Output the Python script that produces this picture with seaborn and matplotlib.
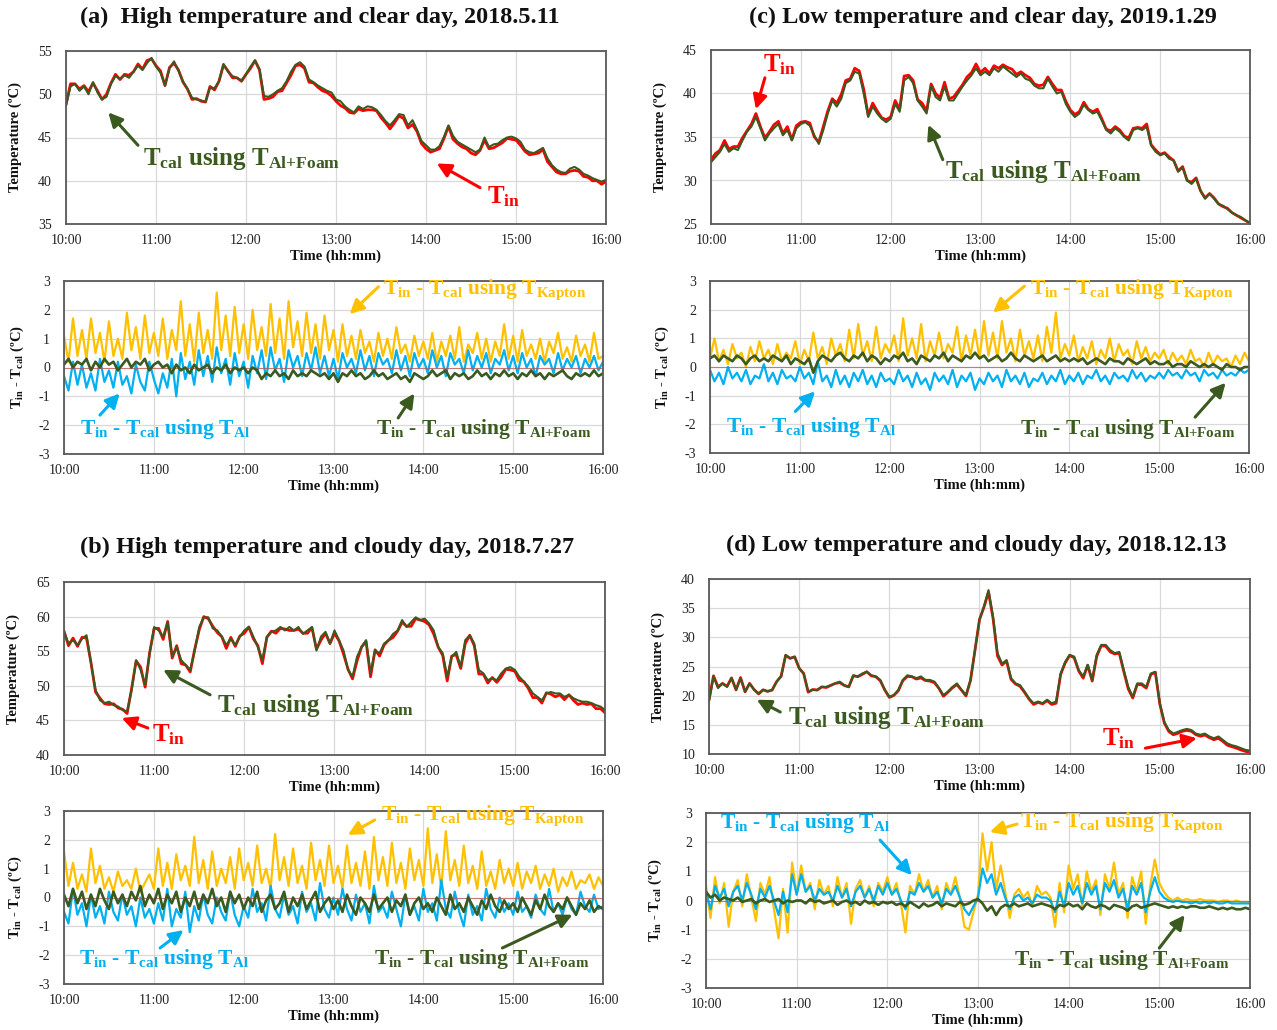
import numpy as np
import pandas as pd
import matplotlib
matplotlib.use("Agg")
import matplotlib.pyplot as plt
import seaborn as sns

# ---------------- data ----------------
minutes = list(range(0, 361, 3))          # 10:00 .. 16:00, every 3 min
hour_ticks = [10, 11, 12, 13, 14, 15, 16]
hour_labels = ["10:00", "11:00", "12:00", "13:00", "14:00", "15:00", "16:00"]

# (a) High temperature and clear day, 2018.5.11
tcal_a = [48.7, 50.9, 51.2, 50.4, 50.9, 50.0, 51.4, 50.2, 49.4, 49.7, 51.2, 52.1, 51.8, 52.2, 51.9, 52.6, 53.3, 52.8, 53.6, 54.2, 53.2,
          52.5, 51.0, 53.0, 53.8, 52.7, 51.5, 50.6, 49.6, 49.4, 49.3, 49.1, 50.8, 50.7, 51.5, 53.5, 52.6, 52.1, 51.9, 51.6, 52.3,
          53.2, 53.9, 52.9, 49.8, 49.7, 50.0, 50.4, 50.7, 51.5, 52.6, 53.4, 53.7, 53.2, 51.7, 51.4, 51.0, 50.7, 50.4, 50.2, 49.4,
          49.2, 48.6, 48.2, 47.9, 48.6, 48.3, 48.6, 48.5, 48.2, 47.6, 46.9, 46.4, 47.0, 47.7, 47.6, 46.4, 47.0, 45.9, 44.6, 44.1,
          43.6, 43.6, 44.0, 45.1, 46.4, 45.2, 44.5, 44.2, 43.9, 43.6, 43.3, 43.6, 45.0, 43.9, 44.2, 44.3, 44.7, 45.0, 45.1, 44.9,
          44.5, 43.6, 43.3, 43.2, 43.5, 43.8, 42.6, 41.8, 41.3, 41.0, 40.9, 41.4, 41.6, 41.3, 40.8, 40.6, 40.3, 40.1, 39.9, 40.1]
dkap_a = [1.1, 0.2, 1.7, 0.4, 1.3, 0.3, 1.7, 0.5, 1.2, 0.2, 1.6, 0.4, 1.0, 0.3, 1.9, 0.6, 1.4, 0.3, 1.8, 0.5, 1.2,
          0.4, 1.7, 0.3, 1.3, 0.6, 2.3, 0.4, 1.5, 0.2, 1.9, 0.5, 1.3, 0.3, 2.6, 0.6, 1.8, 0.4, 2.1, 0.5, 1.5,
          0.3, 2.0, 0.6, 1.4, 0.4, 2.2, 0.5, 1.7, 0.3, 2.3, 0.7, 1.6, 0.4, 1.9, 0.5, 1.5, 0.3, 1.8, 0.6, 1.3,
          0.2, 1.5, 0.4, 1.1, 0.3, 1.3, 0.5, 0.9, 0.2, 1.2, 0.4, 1.0, 0.3, 1.4, 0.5, 0.8, 0.2, 1.1, 0.4, 0.9,
          0.3, 1.2, 0.2, 0.9, 0.4, 1.1, 0.3, 1.4, 0.2, 0.8, 0.5, 1.2, 0.3, 1.0, 0.2, 0.9, 0.4, 1.5, 0.3, 1.1,
          0.2, 1.3, 0.4, 0.8, 0.3, 1.0, 0.2, 0.9, 0.5, 1.2, 0.3, 0.7, 0.2, 1.1, 0.4, 0.8, 0.2, 1.2, 0.3, 0.4]
dal_a = [-0.3, -0.8, 0.2, -0.6, 0.1, -0.7, -0.2, -0.8, 0.3, -0.5, -0.1, -0.7, 0.2, -0.6, -0.3, -0.9, 0.1, -0.5, -0.8, 0.2, -0.4,
         -0.9, -0.2, -0.7, 0.3, -1.0, 0.5, -0.4, 0.2, -0.6, 0.6, -0.3, 0.4, -0.5, 0.7, -0.2, 0.3, -0.6, 0.5, -0.3, 0.2,
         -0.7, 0.4, -0.2, 0.6, -0.4, 0.7, -0.1, 0.3, -0.5, 0.6, 0.0, 0.4, -0.3, 0.5, -0.1, 0.7, -0.2, 0.4, -0.3, 0.3,
         -0.4, 0.5, 0.0, 0.3, -0.2, 0.6, -0.1, 0.4, -0.3, 0.5, 0.1, 0.3, -0.2, 0.6, -0.1, 0.4, -0.3, 0.5, 0.0, 0.3,
         -0.2, 0.6, 0.0, 0.4, -0.3, 0.5, 0.1, 0.3, -0.2, 0.6, -0.1, 0.4, 0.0, 0.5, -0.2, 0.3, 0.1, 0.6, -0.1, 0.4,
         -0.2, 0.5, 0.0, 0.3, -0.3, 0.4, 0.1, 0.3, -0.2, 0.5, -0.1, 0.3, 0.0, 0.4, -0.2, 0.3, 0.0, 0.4, -0.1, 0.2]
dfoam_a = [0.1, 0.3, 0.0, 0.2, 0.1, 0.3, -0.1, 0.2, 0.0, 0.3, 0.1, 0.2, -0.1, 0.1, 0.3, 0.0, 0.2, 0.1, 0.3, -0.1, 0.1,
           0.2, 0.0, 0.1, -0.2, 0.1, -0.1, 0.0, -0.2, 0.1, -0.1, 0.0, 0.1, -0.2, 0.0, -0.1, 0.1, -0.2, 0.0, -0.1, 0.0,
           -0.2, 0.0, -0.1, -0.4, -0.2, -0.3, -0.1, -0.3, -0.2, -0.4, -0.1, -0.3, -0.2, -0.3, -0.1, -0.2, -0.3, -0.2, -0.4, -0.2,
           -0.5, -0.2, -0.3, -0.1, -0.3, -0.2, -0.4, -0.3, -0.1, -0.3, -0.2, -0.4, -0.3, -0.2, -0.4, -0.3, -0.5, -0.2, -0.3, -0.4,
           -0.3, -0.1, -0.3, -0.2, -0.1, -0.4, -0.2, -0.3, -0.2, -0.4, -0.3, -0.1, -0.3, -0.2, -0.4, -0.2, -0.3, -0.1, -0.3, -0.2,
           -0.4, -0.2, -0.3, -0.1, -0.3, -0.2, -0.4, -0.2, -0.3, -0.2, -0.1, -0.3, -0.4, -0.2, -0.3, -0.2, -0.3, -0.1, -0.3, -0.2]

# (c) Low temperature and clear day, 2019.1.29
tcal_c = [32.1, 32.7, 33.3, 34.2, 33.3, 33.7, 33.5, 34.6, 35.6, 36.2, 37.3, 36.0, 34.6, 35.4, 36.0, 36.5, 35.2, 35.8, 34.6, 36.0, 36.5,
          36.7, 36.3, 35.2, 34.2, 35.8, 37.7, 39.2, 38.5, 39.4, 41.2, 41.5, 42.5, 42.3, 40.0, 37.3, 38.5, 37.7, 37.1, 36.7, 37.1,
          38.8, 37.9, 41.5, 41.9, 41.2, 39.2, 38.5, 37.7, 40.9, 39.6, 39.2, 40.8, 39.2, 39.2, 40.0, 40.8, 41.5, 42.1, 42.9, 42.1,
          42.5, 42.1, 42.9, 42.5, 43.1, 42.7, 42.3, 41.9, 42.3, 41.7, 41.5, 40.9, 40.6, 40.6, 41.7, 40.8, 40.0, 40.2, 38.8, 37.9,
          37.3, 37.7, 38.7, 38.1, 37.7, 37.9, 36.9, 35.8, 35.4, 36.0, 35.6, 35.0, 34.6, 35.8, 36.0, 35.8, 36.2, 34.0, 33.3, 32.9,
          33.1, 32.5, 32.3, 31.0, 31.5, 30.0, 29.6, 30.2, 28.8, 27.9, 28.5, 27.9, 27.3, 27.1, 26.7, 26.3, 26.0, 25.8, 25.4, 25.1]
dkap_c = [0.3, 1.0, 0.2, 0.6, 0.1, 0.8, 0.3, 0.5, 0.0, 0.7, 0.2, 0.9, 0.3, 0.6, 0.1, 0.8, 0.2, 0.5, 0.3, 0.9, 0.1,
          0.6, 0.2, 1.2, 0.3, 0.7, 0.1, 1.0, 0.4, 0.8, 0.2, 1.3, 0.3, 1.5, 0.4, 0.9, 0.2, 1.4, 0.3, 0.8, 0.5,
          1.1, 0.2, 1.7, 0.4, 1.0, 0.3, 1.5, 0.2, 0.9, 0.4, 1.2, 0.3, 0.8, 0.5, 1.4, 0.2, 1.1, 0.4, 1.3, 0.3,
          1.6, 0.4, 1.2, 0.3, 1.6, 0.5, 1.0, 0.2, 1.3, 0.4, 0.9, 0.3, 1.1, 0.2, 1.4, 0.5, 1.9, 0.3, 0.8, 0.4,
          1.1, 0.2, 0.7, 0.3, 0.9, 0.1, 0.6, 0.3, 1.0, 0.2, 0.8, 0.4, 0.6, 0.1, 0.9, 0.3, 0.7, 0.2, 0.5, 0.3,
          0.6, 0.1, 0.5, 0.2, 0.4, 0.1, 0.6, 0.2, 0.3, 0.0, 0.5, 0.1, 0.4, 0.2, 0.3, 0.0, 0.4, 0.1, 0.5, 0.2]
dal_c = [-0.1, -0.5, -0.2, -0.6, 0.0, -0.4, -0.2, -0.5, -0.1, -0.6, -0.3, -0.4, 0.1, -0.5, -0.2, -0.6, -0.1, -0.4, -0.3, -0.5, 0.0,
         -0.4, -0.2, -0.6, 0.2, -0.5, -0.3, -0.7, -0.1, -0.6, -0.3, -0.7, -0.2, -0.5, -0.1, -0.6, -0.3, -0.7, -0.2, -0.5, -0.4,
         -0.6, -0.1, -0.5, -0.3, -0.7, -0.2, -0.6, -0.4, -0.8, -0.2, -0.5, -0.3, -0.6, -0.1, -0.7, -0.3, -0.5, -0.2, -0.8, -0.4,
         -0.6, -0.2, -0.5, -0.3, -0.7, -0.1, -0.5, -0.3, -0.6, -0.2, -0.7, -0.4, -0.5, -0.2, -0.6, -0.3, -0.5, -0.1, -0.6, -0.3,
         -0.5, -0.2, -0.6, -0.3, -0.4, -0.1, -0.5, -0.3, -0.6, -0.2, -0.4, -0.3, -0.5, -0.1, -0.4, -0.2, -0.5, -0.3, -0.4, -0.2,
         -0.4, -0.1, -0.3, -0.2, -0.4, -0.1, -0.3, -0.2, -0.5, -0.1, -0.3, -0.2, -0.4, -0.1, -0.3, -0.2, -0.3, -0.1, -0.2, -0.1]
dfoam_c = [0.3, 0.4, 0.2, 0.4, 0.3, 0.2, 0.4, 0.3, 0.1, 0.3, 0.4, 0.2, 0.3, 0.2, 0.4, 0.3, 0.2, 0.4, 0.1, 0.3, 0.2,
           0.1, 0.3, -0.2, 0.2, 0.4, 0.3, 0.2, 0.4, 0.5, 0.3, 0.2, 0.4, 0.3, 0.5, 0.2, 0.4, 0.3, 0.1, 0.3, 0.2,
           0.4, 0.3, 0.5, 0.2, 0.3, 0.1, 0.4, 0.3, 0.2, 0.4, 0.3, 0.5, 0.2, 0.4, 0.3, 0.2, 0.4, 0.3, 0.5, 0.3,
           0.4, 0.2, 0.3, 0.4, 0.2, 0.3, 0.5, 0.3, 0.2, 0.4, 0.3, 0.2, 0.3, 0.4, 0.2, 0.3, 0.4, 0.2, 0.3, 0.2,
           0.3, 0.2, 0.3, 0.1, 0.2, 0.3, 0.2, 0.1, 0.3, 0.2, 0.2, 0.1, 0.3, 0.2, 0.1, 0.2, 0.3, 0.1, 0.2, 0.1,
           0.1, 0.2, 0.0, 0.1, 0.1, 0.0, 0.2, 0.1, 0.0, 0.1, 0.0, 0.1, 0.0, -0.1, 0.1, 0.0, 0.0, -0.1, 0.0, 0.0]

# (b) High temperature and cloudy day, 2018.7.27
tcal_b = [57.8, 56.1, 56.6, 55.9, 56.8, 57.3, 53.2, 49.4, 47.9, 47.5, 47.7, 47.2, 47.0, 46.5, 46.3, 49.4, 53.7, 52.3, 50.1, 54.7, 58.5,
          58.0, 57.1, 59.2, 54.2, 55.6, 53.7, 53.0, 52.3, 55.1, 58.5, 59.9, 59.9, 58.3, 58.0, 57.1, 55.9, 56.8, 55.9, 57.1, 58.0,
          58.5, 57.1, 55.6, 53.7, 57.1, 57.8, 58.0, 58.5, 58.0, 58.5, 58.0, 58.5, 57.5, 58.0, 58.5, 55.1, 57.1, 57.8, 56.1, 58.0,
          56.6, 55.1, 52.3, 51.3, 54.2, 55.6, 56.6, 51.8, 55.1, 54.7, 56.1, 56.6, 57.5, 58.0, 59.5, 58.5, 59.2, 59.9, 59.5, 59.7,
          59.0, 58.0, 55.6, 54.7, 51.3, 54.2, 54.9, 52.7, 56.6, 57.3, 56.1, 52.3, 51.8, 50.8, 51.1, 50.8, 51.8, 52.5, 52.7, 52.3,
          51.3, 50.6, 49.9, 48.9, 48.4, 47.9, 48.9, 49.1, 48.9, 48.9, 48.4, 48.7, 48.2, 47.9, 47.7, 47.7, 47.5, 47.2, 47.0, 46.5]
dkap_b = [1.6, 0.4, 1.2, 0.3, 0.8, 0.2, 1.7, 0.5, 1.1, 0.3, 0.7, 0.2, 0.9, 0.4, 0.6, 0.3, 1.0, 0.2, 0.5, 0.8, 0.3,
          1.7, 0.4, 1.2, 0.3, 1.5, 0.6, 1.1, 0.4, 2.1, 0.5, 1.3, 0.3, 1.6, 0.4, 1.0, 0.5, 1.4, 0.3, 1.7, 0.6,
          1.2, 0.4, 1.8, 0.5, 1.0, 0.3, 2.2, 0.6, 1.4, 0.4, 1.7, 0.5, 1.1, 0.3, 1.9, 0.6, 1.3, 0.4, 1.8, 0.5,
          1.1, 0.3, 1.8, 0.5, 1.2, 0.4, 1.6, 0.3, 2.1, 0.6, 1.4, 0.4, 1.9, 0.5, 1.2, 0.3, 1.7, 0.6, 1.3, 0.4,
          2.4, 0.5, 1.5, 0.3, 2.3, 0.6, 1.3, 0.4, 1.8, 0.5, 1.1, 0.3, 1.6, 0.4, 0.9, 0.3, 1.3, 0.5, 1.0, 0.4,
          1.2, 0.3, 0.9, 0.5, 1.1, 0.3, 0.8, 0.4, 1.0, 0.2, 0.7, 0.4, 0.9, 0.3, 0.6, 0.5, 0.8, 0.3, 0.7, 0.4]
dal_b = [-0.5, -0.9, 0.3, -0.6, -0.2, -1.0, 0.1, -0.7, -0.3, -0.9, 0.2, -0.5, -0.8, 0.1, -0.6, -0.3, -1.0, 0.0, -0.7, -0.4, -0.9,
         -0.2, -0.8, 0.3, -1.0, -0.4, -0.7, 0.2, -1.2, -0.3, -0.8, 0.1, -0.6, -0.9, 0.0, -0.5, -0.8, 0.2, -0.6, -1.0, -0.3,
         -0.7, 0.3, -0.5, -0.2, -0.8, 0.4, -0.4, -0.7, 0.1, -0.6, -0.3, -0.9, 0.2, -0.5, -0.2, -0.8, 0.5, -0.4, -0.7, 0.0,
         -0.6, 0.3, -0.4, -0.8, 0.1, -0.5, -0.2, -0.9, 0.4, -0.5, -0.3, -0.7, 0.2, -0.4, -1.0, 0.1, -0.6, -0.3, -0.8, 0.3,
         -0.5, -0.2, -0.8, 0.6, -0.4, -0.7, 0.2, -0.5, -1.0, 0.1, -0.6, -0.3, -0.8, 0.3, -0.4, -0.7, 0.0, -0.5, -0.2, -0.6,
         0.2, -0.5, -0.3, -0.7, 0.1, -0.4, -0.6, 0.3, -0.5, -0.2, -0.6, 0.0, -0.4, -0.6, 0.2, -0.3, -0.5, 0.1, -0.4, -0.3]
dfoam_b = [0.1, -0.3, 0.3, -0.2, 0.2, -0.4, 0.1, -0.3, 0.3, -0.1, -0.4, 0.2, -0.2, 0.1, -0.3, 0.2, -0.1, 0.4, -0.3, 0.1, -0.2,
           0.3, -0.4, 0.1, -0.2, 0.2, -0.5, 0.0, -0.3, 0.2, -0.4, 0.1, -0.2, 0.3, -0.3, 0.0, -0.5, 0.2, -0.2, 0.1, -0.4,
           0.0, -0.3, 0.2, -0.5, -0.1, 0.1, -0.4, -0.2, 0.2, -0.5, 0.0, -0.3, 0.1, -0.4, -0.1, 0.2, -0.5, -0.2, 0.0, -0.4,
           -0.1, -0.5, 0.1, -0.3, -0.6, 0.0, -0.2, -0.5, 0.1, -0.4, -0.2, 0.0, -0.5, -0.1, -0.3, 0.1, -0.6, -0.2, 0.0, -0.4,
           -0.2, -0.5, 0.0, -0.3, -0.6, 0.1, -0.4, -0.2, -0.5, 0.0, -0.3, -0.6, -0.1, -0.4, 0.1, -0.3, -0.5, -0.1, -0.4, -0.2,
           -0.5, 0.0, -0.3, -0.6, -0.1, -0.4, 0.1, -0.3, -0.5, -0.2, -0.4, 0.0, -0.3, -0.6, -0.2, -0.4, -0.1, -0.5, -0.3, -0.4]

# (d) Low temperature and cloudy day, 2018.12.13
tcal_d = [19.0, 23.3, 21.3, 22.1, 21.5, 23.0, 21.0, 23.0, 20.7, 22.1, 21.0, 20.4, 21.0, 20.7, 21.0, 22.4, 23.3, 27.0, 26.4, 26.7, 24.7,
          23.8, 20.7, 21.0, 21.0, 21.5, 21.5, 21.8, 22.1, 22.4, 21.8, 21.5, 23.5, 23.3, 23.8, 24.1, 23.5, 23.3, 22.7, 21.0, 19.8,
          20.1, 21.0, 22.7, 23.5, 23.3, 23.0, 23.3, 22.7, 22.7, 22.4, 21.3, 20.1, 20.7, 21.5, 22.1, 21.0, 20.1, 22.7, 27.8, 33.0,
          35.3, 38.1, 33.5, 27.3, 25.5, 26.1, 23.0, 22.1, 21.8, 20.7, 19.5, 18.7, 19.0, 18.7, 19.3, 18.7, 19.0, 23.8, 25.8, 27.0,
          26.7, 24.4, 23.3, 25.3, 22.7, 27.0, 28.7, 28.7, 27.8, 27.3, 27.5, 24.4, 21.5, 19.8, 22.1, 22.1, 21.5, 23.8, 24.1, 18.7,
          15.5, 14.1, 13.5, 13.8, 14.1, 14.3, 14.1, 13.5, 13.3, 13.5, 13.0, 12.7, 13.0, 12.4, 11.8, 11.5, 11.3, 11.0, 10.7, 10.6]
dkap_d = [0.5, -0.6, 0.8, -0.1, 0.6, -0.9, 0.3, 0.7, -0.2, 0.9, 0.1, -0.7, 0.6, 0.2, 0.8, -0.3, -1.3, 0.4, -1.1, 1.3, 0.2,
          1.2, 0.3, 0.6, -0.3, 0.7, 0.2, 0.5, -0.2, 0.8, 0.1, 0.6, -0.8, 0.4, 0.7, 0.1, 0.5, -0.2, 0.6, 0.3, 0.8,
          0.2, 0.6, -0.1, -1.1, 0.5, 0.2, 0.9, 0.3, 0.7, 0.1, 0.5, -0.3, 0.6, 0.2, 0.8, 0.1, -0.9, -1.0, -0.4, 0.2,
          2.3, 1.0, 2.0, 0.4, 1.2, 0.3, -0.6, 0.2, 0.4, 0.1, 0.3, -0.2, 0.5, 0.2, 0.3, 0.1, -0.9, 0.6, -0.4, 1.2,
          0.4, 0.9, -0.2, 1.0, 0.3, 0.7, -0.5, 0.9, 0.4, 1.3, 0.2, 0.6, -0.6, 0.8, 0.3, 1.0, -0.8, 0.5, 1.4, 0.6,
          0.3, 0.1, 0.0, 0.1, 0.0, 0.05, 0.0, 0.0, 0.05, 0.0, 0.0, 0.0, -0.05, 0.0, 0.0, -0.05, 0.0, -0.05, -0.05, -0.05]
dal_d = [0.3, -0.3, 0.5, 0.1, 0.4, -0.2, 0.3, 0.5, 0.0, 0.6, 0.2, -0.3, 0.4, 0.1, 0.5, 0.0, -0.5, 0.3, -0.4, 0.9, 0.2,
         0.9, 0.3, 0.5, 0.0, 0.4, 0.2, 0.3, 0.0, 0.5, 0.1, 0.4, -0.2, 0.3, 0.5, 0.1, 0.4, 0.0, 0.5, 0.2, 0.6,
         0.2, 0.4, 0.0, -0.3, 0.3, 0.2, 0.6, 0.3, 0.5, 0.1, 0.3, -0.1, 0.4, 0.2, 0.5, 0.1, -0.3, -0.5, -0.2, 0.1,
         1.1, 0.6, 0.9, 0.2, 0.6, 0.1, -0.3, 0.1, 0.2, 0.0, 0.1, -0.1, 0.2, 0.1, 0.1, 0.0, -0.4, 0.3, -0.2, 0.6,
         0.2, 0.5, -0.1, 0.6, 0.2, 0.5, -0.3, 0.6, 0.3, 0.7, 0.1, 0.4, -0.3, 0.5, 0.2, 0.6, -0.4, 0.3, 0.8, 0.3,
         0.1, 0.0, -0.05, 0.0, -0.05, -0.05, -0.1, -0.05, -0.1, -0.05, -0.1, -0.05, -0.1, -0.1, -0.05, -0.1, -0.1, -0.1, -0.1, -0.1]
dfoam_d = [0.3, 0.1, 0.2, 0.0, 0.1, 0.05, 0.0, 0.1, -0.05, 0.0, 0.05, -0.1, 0.0, 0.05, -0.05, 0.0, 0.05, -0.1, 0.0, -0.05, 0.0,
           0.0, -0.1, 0.05, -0.05, 0.0, -0.1, -0.05, 0.0, -0.15, -0.05, 0.0, -0.1, -0.05, -0.15, 0.0, -0.1, -0.05, -0.15, -0.05, -0.1,
           -0.05, -0.15, -0.1, -0.2, -0.05, -0.15, -0.25, -0.1, -0.2, -0.15, -0.05, -0.2, -0.1, -0.15, -0.2, -0.05, -0.15, -0.1, 0.0, 0.05,
           -0.1, -0.35, -0.2, -0.5, -0.25, -0.15, -0.2, -0.1, -0.2, -0.15, -0.1, -0.2, -0.15, -0.1, -0.15, -0.2, -0.3, -0.15, -0.2, -0.1,
           -0.2, -0.15, -0.3, -0.1, -0.2, -0.25, -0.15, -0.2, -0.3, -0.15, -0.2, -0.25, -0.35, -0.2, -0.15, -0.25, -0.2, -0.15, -0.1, -0.15,
           -0.2, -0.25, -0.2, -0.25, -0.2, -0.25, -0.2, -0.2, -0.25, -0.25, -0.2, -0.25, -0.3, -0.25, -0.3, -0.25, -0.3, -0.3, -0.25, -0.3]

# ---------------- style ----------------
RED = "#ff0000"
GREEN = "#3b5a1f"
YELLOW = "#ffc000"
BLUE = "#00b0f0"
GRID = "#d9d9d9"
SPINE = "#595959"

sns.set_theme(style="white")
plt.rcParams.update({
    "font.family": ["Liberation Serif", "DejaVu Serif"],
    "mathtext.fontset": "custom",
    "mathtext.rm": "Liberation Serif:bold",
    "mathtext.it": "Liberation Serif:italic:bold",
    "mathtext.bf": "Liberation Serif:bold",
    "axes.unicode_minus": False,
})

W, H = 1277, 1030
fig = plt.figure(figsize=(W / 100, H / 100), dpi=100)
fig.patch.set_facecolor("white")


def rect(l, r, t, b):
    return [l / W, 1 - b / H, (r - l) / W, (b - t) / H]


def style(ax, box, ylim, yticks, ylabel, ylab_px):
    l, r, t, b = box
    ax.set_xlim(10, 16)
    ax.set_ylim(*ylim)
    ax.set_xticks(hour_ticks)
    ax.set_xticklabels(hour_labels)
    ax.set_yticks(yticks)
    ax.set_yticklabels([str(v) for v in yticks])
    ax.grid(True, color=GRID, lw=0.9)
    ax.set_axisbelow(True)
    for s in ax.spines.values():
        s.set_visible(True)
        s.set_color(SPINE)
        s.set_linewidth(1.3)
    ax.tick_params(axis="both", length=0, labelsize=10, colors="#222222")
    ax.tick_params(axis="x", pad=7)
    ax.tick_params(axis="y", pad=10)
    ax.set_xlabel("Time (hh:mm)", fontsize=10.5, fontweight="bold", color="#111111")
    ax.xaxis.set_label_coords(0.5, -32 / (b - t))
    ax.xaxis.label.set_va("center")
    ax.set_ylabel(ylabel, fontsize=10.5, fontweight="bold", color="#111111")
    ax.yaxis.set_label_coords((ylab_px - l) / (r - l), 0.5)
    ax.yaxis.label.set_va("center")


def temp_panel(box, tcal, dfoam, ylim, yticks, ylab_px):
    ax = fig.add_axes(rect(*box))
    tc = np.array(tcal)
    df = pd.DataFrame({
        "t": 10 + np.array(minutes) / 60.0,
        "tin": tc + np.array(dfoam),
        "tcal": tc,
    })
    sns.lineplot(data=df, x="t", y="tin", ax=ax, color=RED, lw=2.0, estimator=None, sort=False)
    sns.lineplot(data=df, x="t", y="tcal", ax=ax, color=GREEN, lw=1.5, estimator=None, sort=False)
    style(ax, box, ylim, yticks, "Temperature (ºC)", ylab_px)
    return ax


def diff_panel(box, dkap, dal, dfoam, ylab_px):
    ax = fig.add_axes(rect(*box))
    df = pd.DataFrame({
        "t": 10 + np.array(minutes) / 60.0,
        "kap": dkap, "al": dal, "foam": dfoam,
    })
    sns.lineplot(data=df, x="t", y="kap", ax=ax, color=YELLOW, lw=1.6, estimator=None, sort=False)
    sns.lineplot(data=df, x="t", y="al", ax=ax, color=BLUE, lw=1.6, estimator=None, sort=False)
    ax.axhline(0, color="#c0504d", lw=0.8, alpha=0.7)
    sns.lineplot(data=df, x="t", y="foam", ax=ax, color=GREEN, lw=1.9, estimator=None, sort=False)
    style(ax, box, (-3, 3), [-3, -2, -1, 0, 1, 2, 3],
          r"T$_{\mathrm{in}}$ - T$_{\mathrm{cal}}$ (ºC)", ylab_px)
    return ax


def label(ax, x, y, s, color, size):
    ax.text(x, y, s, color=color, fontsize=size, fontweight="bold",
            ha="left", va="center", zorder=10)


def arrow(ax, tail, head, color):
    ax.annotate("", xy=head, xytext=tail, zorder=10,
                arrowprops=dict(arrowstyle="-|>,head_length=0.7,head_width=0.35",
                                color=color, lw=2.2, shrinkA=0, shrinkB=0))


S_TCAL = r"T$_{\mathrm{cal}}$ using T$_{\mathrm{Al{+}Foam}}$"
S_TIN = r"T$_{\mathrm{in}}$"
S_KAP = r"T$_{\mathrm{in}}$ - T$_{\mathrm{cal}}$ using T$_{\mathrm{Kapton}}$"
S_AL = r"T$_{\mathrm{in}}$ - T$_{\mathrm{cal}}$ using T$_{\mathrm{Al}}$"
S_FOAM = r"T$_{\mathrm{in}}$ - T$_{\mathrm{cal}}$ using T$_{\mathrm{Al{+}Foam}}$"

# ---------- (a) ----------
ax = temp_panel((66, 606, 51, 224), tcal_a, dfoam_a, (35, 55), [35, 40, 45, 50, 55], 15)
label(ax, 10.85, 42.6, S_TCAL, GREEN, 18)
arrow(ax, (10.8, 44.1), (10.47, 47.9), GREEN)
label(ax, 14.68, 38.2, S_TIN, RED, 18)
arrow(ax, (14.6, 39.2), (14.12, 42.0), RED)

ax = diff_panel((64, 603, 281, 454), dkap_a, dal_a, dfoam_a, 17)
label(ax, 13.55, 2.68, S_KAP, YELLOW, 15.5)
arrow(ax, (13.5, 2.8), (13.18, 1.85), YELLOW)
label(ax, 10.18, -2.12, S_AL, BLUE, 15.5)
arrow(ax, (10.4, -1.65), (10.62, -0.9), BLUE)
label(ax, 13.47, -2.15, S_FOAM, GREEN, 15.5)
arrow(ax, (13.72, -1.75), (13.9, -0.9), GREEN)

# ---------- (c) ----------
ax = temp_panel((711, 1250, 50, 224), tcal_c, dfoam_c, (25, 45), [25, 30, 35, 40, 45], 660)
label(ax, 10.58, 43.3, S_TIN, RED, 18)
arrow(ax, (10.6, 41.8), (10.5, 38.2), RED)
label(ax, 12.6, 31.0, S_TCAL, GREEN, 18)
arrow(ax, (12.58, 32.4), (12.42, 36.4), GREEN)

ax = diff_panel((710, 1249, 281, 453), dkap_c, dal_c, dfoam_c, 662)
label(ax, 13.56, 2.68, S_KAP, YELLOW, 15.5)
arrow(ax, (13.5, 2.82), (13.15, 1.9), YELLOW)
label(ax, 10.18, -2.1, S_AL, BLUE, 15.5)
arrow(ax, (10.95, -1.55), (11.17, -0.85), BLUE)
label(ax, 13.45, -2.15, S_FOAM, GREEN, 15.5)
arrow(ax, (15.4, -1.75), (15.74, -0.55), GREEN)

# ---------- (b) ----------
ax = temp_panel((64, 605, 582, 755), tcal_b, dfoam_b, (40, 65), [40, 45, 50, 55, 60, 65], 13)
label(ax, 11.7, 47.1, S_TCAL, GREEN, 18)
arrow(ax, (11.62, 48.7), (11.1, 52.3), GREEN)
label(ax, 10.98, 43.0, S_TIN, RED, 18)
arrow(ax, (10.93, 43.9), (10.64, 45.35), RED)

ax = diff_panel((64, 603, 811, 984), dkap_b, dal_b, dfoam_b, 15)
label(ax, 13.53, 2.85, S_KAP, YELLOW, 15.5)
arrow(ax, (13.46, 2.69), (13.16, 2.17), YELLOW)
label(ax, 10.17, -2.15, S_AL, BLUE, 15.5)
arrow(ax, (11.07, -1.75), (11.33, -1.13), BLUE)
label(ax, 13.45, -2.15, S_FOAM, GREEN, 15.5)
arrow(ax, (14.88, -1.75), (15.66, -0.6), GREEN)

# ---------- (d) ----------
ax = temp_panel((709, 1250, 579, 754), tcal_d, dfoam_d, (10, 40), [10, 15, 20, 25, 30, 35, 40], 658)
label(ax, 10.88, 16.2, S_TCAL, GREEN, 18)
arrow(ax, (10.79, 17.2), (10.53, 19.3), GREEN)
label(ax, 14.36, 12.7, S_TIN, RED, 18)
arrow(ax, (14.84, 11.0), (15.41, 12.7), RED)

ax = diff_panel((706, 1250, 813, 988), dkap_d, dal_d, dfoam_d, 655)
label(ax, 10.15, 2.66, S_AL, BLUE, 15.5)
arrow(ax, (11.92, 2.07), (12.27, 0.87), BLUE)
label(ax, 13.46, 2.66, S_KAP, YELLOW, 15.5)
arrow(ax, (13.43, 2.62), (13.13, 2.35), YELLOW)
label(ax, 13.4, -2.05, S_FOAM, GREEN, 15.5)
arrow(ax, (15.0, -1.63), (15.28, -0.5), GREEN)

# ---------- titles ----------
TITLE_KW = dict(fontsize=17.5, fontweight="bold", ha="center", va="center", color="#111111")
fig.text(320 / W, 1 - 17 / H, "(a)  High temperature and clear day, 2018.5.11", **TITLE_KW)
fig.text(983 / W, 1 - 17 / H, "(c) Low temperature and clear day, 2019.1.29", **TITLE_KW)
fig.text(327 / W, 1 - 547 / H, "(b) High temperature and cloudy day, 2018.7.27", **TITLE_KW)
fig.text(976 / W, 1 - 545 / H, "(d) Low temperature and cloudy day, 2018.12.13", **TITLE_KW)

fig.savefig("out.png", dpi=100, facecolor="white")
